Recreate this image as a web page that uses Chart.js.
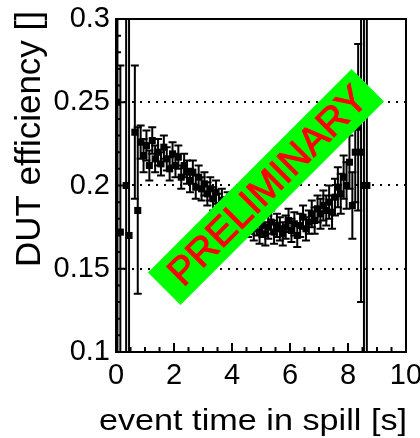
<!DOCTYPE html>
<html>
<head>
<meta charset="utf-8">
<script src="https://cdn.jsdelivr.net/npm/chart.js@4.4.1/dist/chart.umd.min.js"></script>
<style>
  html, body { margin: 0; padding: 0; background: #fff; }
  #chart { display: block; }
</style>
</head>
<body>
<canvas id="chart" width="420" height="438"></canvas>
<script>
// event time in spill [s] (bin centres)
const timeBins = [
  0.05, 0.15, 0.35, 0.45, 0.65, 0.75,
  0.85, 0.95, 1.05, 1.15, 1.25, 1.35, 1.45, 1.55, 1.65, 1.75,
  1.85, 1.95, 2.05, 2.15, 2.25, 2.35, 2.45, 2.55, 2.65, 2.75,
  2.85, 2.95, 3.05, 3.15, 3.25, 3.35, 3.45, 3.55, 3.65, 3.75,
  3.85, 3.95, 4.05, 4.15, 4.25, 4.35, 4.45, 4.55, 4.65, 4.75,
  4.85, 4.95, 5.05, 5.15, 5.25, 5.35, 5.45, 5.55, 5.65, 5.75,
  5.85, 5.95, 6.05, 6.15, 6.25, 6.35, 6.45, 6.55, 6.65, 6.75,
  6.85, 6.95, 7.05, 7.15, 7.25, 7.35, 7.45, 7.55, 7.65, 7.75,
  7.85, 7.95, 8.05, 8.15, 8.25, 8.35, 8.45, 8.55, 8.65
];
const efficiency = [
  0.250, 0.172, 0.200, 0.170, 0.232, 0.185,
  0.226, 0.218, 0.224, 0.212, 0.227, 0.216, 0.220, 0.213, 0.223, 0.216,
  0.210, 0.219, 0.212, 0.217, 0.205, 0.212, 0.208, 0.203, 0.208, 0.199,
  0.205, 0.198, 0.201, 0.195, 0.198, 0.192, 0.196, 0.188, 0.191, 0.186,
  0.189, 0.183, 0.185, 0.180, 0.182, 0.178, 0.180, 0.176, 0.178, 0.174,
  0.177, 0.172, 0.176, 0.171, 0.175, 0.178, 0.172, 0.176, 0.174, 0.171,
  0.175, 0.179, 0.173, 0.177, 0.170, 0.176, 0.181, 0.174, 0.178, 0.183,
  0.179, 0.186, 0.183, 0.188, 0.185, 0.190, 0.184, 0.193, 0.199, 0.195,
  0.205, 0.200, 0.214, 0.188, 0.220, 0.235, 0.220, 0.200, 0.200
];
const efficiencyErr = [
  0.160, 0.100, 0.200, 0.200, 0.040, 0.050,
  0.010, 0.010, 0.009, 0.009, 0.008, 0.008, 0.008, 0.007, 0.007, 0.007,
  0.007, 0.007, 0.007, 0.007, 0.007, 0.007, 0.007, 0.007, 0.007, 0.007,
  0.007, 0.007, 0.007, 0.007, 0.007, 0.007, 0.007, 0.007, 0.007, 0.007,
  0.007, 0.007, 0.007, 0.007, 0.007, 0.007, 0.007, 0.007, 0.007, 0.007,
  0.007, 0.007, 0.007, 0.007, 0.007, 0.007, 0.007, 0.007, 0.007, 0.007,
  0.007, 0.007, 0.007, 0.007, 0.007, 0.007, 0.007, 0.007, 0.007, 0.008,
  0.008, 0.008, 0.009, 0.009, 0.009, 0.010, 0.010, 0.011, 0.012, 0.012,
  0.013, 0.014, 0.016, 0.020, 0.030, 0.050, 0.090, 0.200, 0.300
];
const xTicks = [0, 2, 4, 6, 8, 10];
const yTicks = [0.1, 0.15, 0.2, 0.25, 0.3];
const xTitle = 'event time in spill [s]';
const yTitle = 'DUT efficiency []';
const stampText = 'PRELIMINARY';

const fontFamily = '"Liberation Sans", Arial, Helvetica, sans-serif';

// ROOT style vertical error bars with small caps
const errorBars = {
  id: 'errorBars',
  beforeDatasetsDraw(chart) {
    const { ctx, chartArea: a, scales: { x, y } } = chart;
    ctx.save();
    ctx.beginPath();
    ctx.rect(a.left, a.top, a.right - a.left, a.bottom - a.top);
    ctx.clip();
    ctx.strokeStyle = '#000';
    ctx.lineWidth = 2;
    timeBins.forEach((t, i) => {
      const px = x.getPixelForValue(t);
      const py = y.getPixelForValue(efficiency[i]);
      const lo = y.getPixelForValue(efficiency[i] - efficiencyErr[i]);
      const hi = y.getPixelForValue(efficiency[i] + efficiencyErr[i]);
      ctx.beginPath();
      ctx.moveTo(px, lo); ctx.lineTo(px, hi);
      ctx.moveTo(px - 4, lo); ctx.lineTo(px + 4, lo);
      ctx.moveTo(px - 4, hi); ctx.lineTo(px + 4, hi);
      ctx.moveTo(x.getPixelForValue(t - 0.05), py);
      ctx.lineTo(x.getPixelForValue(t + 0.05), py);
      ctx.stroke();
    });
    ctx.restore();
  }
};

// frame with inner tick marks, drawn before the points like ROOT's axes
const frame = {
  id: 'frame',
  beforeDatasetsDraw(chart) {
    const { ctx, scales: { x, y } } = chart;
    const L = x.getPixelForValue(0), R = x.getPixelForValue(10);
    const T = y.getPixelForValue(0.3), B = y.getPixelForValue(0.1);
    ctx.save();
    ctx.strokeStyle = '#000';
    ctx.lineWidth = 2;
    ctx.beginPath();
    ctx.moveTo(L, T); ctx.lineTo(R, T); ctx.lineTo(R, B); ctx.lineTo(L, B); ctx.closePath();
    for (let k = 0; k <= 20; k++) {
      const px = x.getPixelForValue(k * 0.5);
      ctx.moveTo(px, B); ctx.lineTo(px, B - (k % 4 === 0 ? 9 : 5));
    }
    for (let k = 0; k <= 20; k++) {
      const py = y.getPixelForValue(0.1 + k * 0.01);
      ctx.moveTo(L, py); ctx.lineTo(L + (k % 5 === 0 ? 9 : 5), py);
    }
    ctx.stroke();
    ctx.restore();
  }
};

// axis titles and the PRELIMINARY stamp
const overlay = {
  id: 'overlay',
  afterDraw(chart) {
    const { ctx, scales: { x } } = chart;
    ctx.save();
    ctx.fillStyle = '#000';

    ctx.save();
    ctx.translate(x.getPixelForValue(10) + 1, 430);
    ctx.scale(1.18, 1);
    ctx.font = '29px ' + fontFamily;
    ctx.textAlign = 'right';
    ctx.textBaseline = 'alphabetic';
    ctx.fillText(xTitle, 0, 0);
    ctx.restore();

    ctx.save();
    ctx.translate(30, 139);
    ctx.rotate(-Math.PI / 2);
    ctx.font = '35px ' + fontFamily;
    ctx.textAlign = 'center';
    ctx.textBaseline = 'middle';
    ctx.fillText(yTitle, 0, 0);
    ctx.restore();

    ctx.translate(266, 187);
    ctx.rotate(-Math.PI / 4);
    ctx.fillStyle = '#00ff00';
    ctx.fillRect(-144, -23, 288, 46);
    ctx.fillStyle = '#ff0000';
    ctx.strokeStyle = '#ff0000';
    ctx.lineWidth = 1;
    ctx.font = '39px ' + fontFamily;
    ctx.textAlign = 'center';
    ctx.textBaseline = 'middle';
    ctx.fillText(stampText, 2, 2);
    ctx.strokeText(stampText, 2, 2);
    ctx.restore();
  }
};

new Chart(document.getElementById('chart'), {
  type: 'scatter',
  data: {
    datasets: [{
      data: timeBins.map((t, i) => ({ x: t, y: efficiency[i] })),
      backgroundColor: '#000',
      borderColor: '#000',
      pointStyle: 'rect',
      pointRadius: 5,
      borderWidth: 0
    }]
  },
  options: {
    responsive: false,
    animation: false,
    devicePixelRatio: 1,
    layout: { padding: { top: 19, right: 14, left: 0, bottom: 0 } },
    plugins: { legend: { display: false }, tooltip: { enabled: false } },
    scales: {
      x: {
        type: 'linear',
        min: 0,
        max: 10,
        afterFit: s => { s.height = 86; s.paddingLeft = 0; s.paddingRight = 0; },
        afterBuildTicks: s => { s.ticks = xTicks.map(v => ({ value: v })); },
        ticks: { color: '#000', font: { family: fontFamily, size: 29 }, padding: 7 },
        grid: { display: false, drawTicks: false },
        border: { display: false }
      },
      y: {
        min: 0.1,
        max: 0.3,
        afterFit: s => { s.width = 116; s.paddingTop = 0; s.paddingBottom = 0; },
        afterBuildTicks: s => { s.ticks = yTicks.map(v => ({ value: v })); },
        ticks: {
          color: '#000',
          font: { family: fontFamily, size: 29 },
          padding: 6,
          callback: v => String(+v.toFixed(2))
        },
        grid: {
          drawTicks: false,
          lineWidth: 2,
          color: c => (c.tick && (Math.abs(c.tick.value - 0.1) < 1e-6 || Math.abs(c.tick.value - 0.3) < 1e-6)) ? 'rgba(0,0,0,0)' : '#000'
        },
        border: { display: false, dash: [2, 6] }
      }
    }
  },
  plugins: [frame, errorBars, overlay]
});
</script>
</body>
</html>
